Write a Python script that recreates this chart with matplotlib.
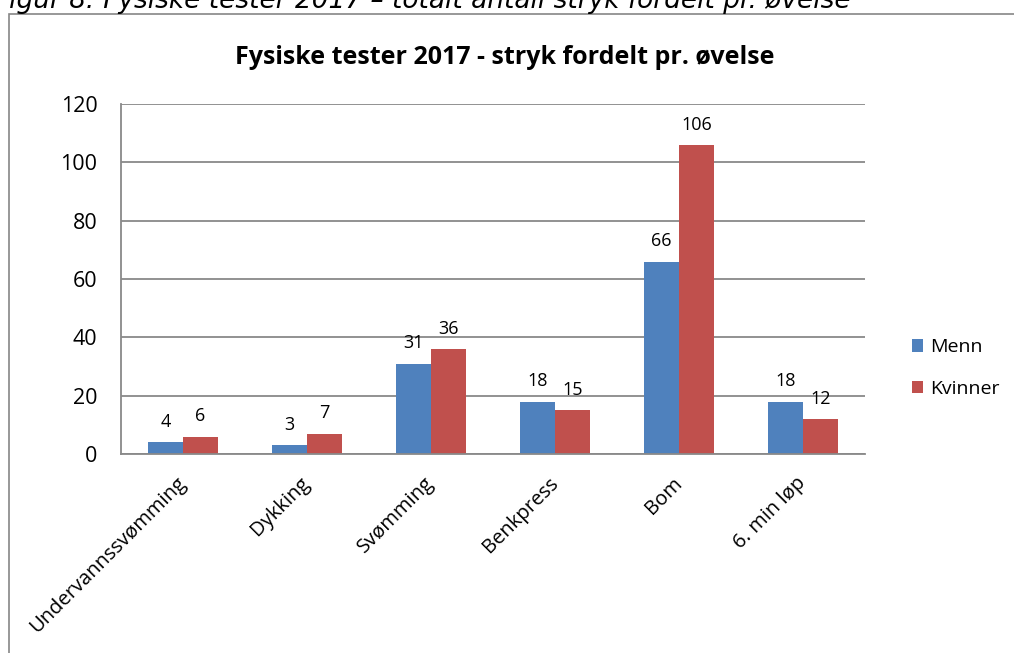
# Fysiske tester 2017 - antall stryk per øvelse, menn og kvinner.

import matplotlib
matplotlib.use('Agg')
import matplotlib.pyplot as plt
import numpy as np

plt.rcParams['font.family'] = ['Open Sans', 'DejaVu Sans']

# data
ovelser = ['Undervannssvømming', 'Dykking', 'Svømming', 'Benkpress', 'Bom', '6. min løp']
menn = [4, 3, 31, 18, 66, 18]
kvinner = [6, 7, 36, 15, 106, 12]
yticks = [0, 20, 40, 60, 80, 100, 120]

blue = '#4F81BD'
red = '#C0504D'
grid_col = '#898989'

fig = plt.figure(figsize=(10.14, 6.53), dpi=100)

# outer chart frame (cut off on right and bottom like in the report)
fig.add_artist(plt.Rectangle((9 / 1014, -0.05), 1.1, 1 - 14 / 653 + 0.05,
                             transform=fig.transFigure, fill=False,
                             edgecolor='#868686', linewidth=1.2))

# caption from the report, only lower half visible
fig.text(-0.006, 1 - 8 / 653, 'Figur 8: Fysiske tester 2017 \u2013 totalt antall stryk fordelt pr. øvelse',
         fontsize=19, style='italic', family=['DejaVu Sans'], va='baseline', ha='left')

ax = fig.add_axes([121 / 1014, 1 - 454 / 653, (865 - 121) / 1014, (454 - 104) / 653])

x = np.arange(len(ovelser))
w = 0.283
b1 = ax.bar(x - w / 2, menn, w, color=blue, label='Menn')
b2 = ax.bar(x + w / 2, kvinner, w, color=red, label='Kvinner')

for bars, vals in ((b1, menn), (b2, kvinner)):
    for bar, v in zip(bars, vals):
        ax.annotate(str(v), (bar.get_x() + bar.get_width() / 2, v),
                    xytext=(0, 8), textcoords='offset points',
                    ha='center', va='bottom', fontsize=13)

ax.set_xlim(-0.5, len(ovelser) - 0.5)
ax.set_ylim(0, 120)
ax.set_yticks(yticks)
ax.yaxis.grid(True, color=grid_col, linewidth=1.3)
ax.set_axisbelow(True)
ax.tick_params(axis='y', length=0, labelsize=15.5, pad=17)
ax.set_xticks(x)
ax.set_xticklabels(ovelser, rotation=45, ha='right', va='center', rotation_mode='anchor')
ax.tick_params(axis='x', length=0, labelsize=14.5, pad=19)

for side in ('top', 'right'):
    ax.spines[side].set_visible(False)
for side in ('left', 'bottom'):
    ax.spines[side].set_color(grid_col)
    ax.spines[side].set_linewidth(1.3)

fig.text(505 / 1014, 1 - 57 / 653, 'Fysiske tester 2017 - stryk fordelt pr. øvelse',
         ha='center', va='center', fontsize=18, fontweight='bold')

fig.legend(handles=[b1, b2], loc='center left', bbox_to_anchor=(894 / 1014, 1 - 368 / 653),
           frameon=False, fontsize=14, handlelength=0.6, handleheight=0.6,
           handletextpad=0.35, labelspacing=1.2)

fig.savefig('out.png', dpi=100)
